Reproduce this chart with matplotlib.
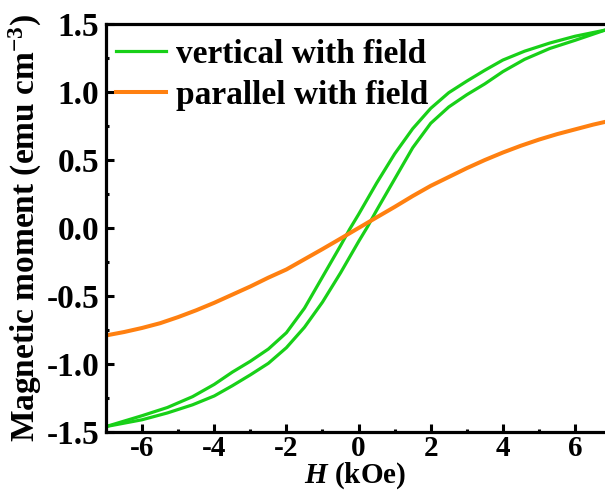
import numpy as np
import matplotlib
matplotlib.use('Agg')
import matplotlib.pyplot as plt

plt.rcParams['font.family'] = 'Liberation Serif'
plt.rcParams['font.weight'] = 'bold'
plt.rcParams['axes.unicode_minus'] = False
plt.rcParams['mathtext.fontset'] = 'custom'
plt.rcParams['mathtext.rm'] = 'Liberation Serif:bold'
plt.rcParams['mathtext.bf'] = 'Liberation Serif:bold'
plt.rcParams['mathtext.it'] = 'Liberation Serif:italic:bold'

# vertical with field: descending branch (from +H to -H)
h_down = [6.83, 6.0, 5.3, 4.6, 4.0, 3.5, 3.0, 2.5, 2.0, 1.5, 1.0, 0.5, 0.0, -0.25,
          -0.5, -1.0, -1.5, -2.0, -2.5, -3.0, -3.5, -4.0, -4.6, -5.3, -6.0, -7.0]
m_down = [1.455, 1.41, 1.36, 1.30, 1.235, 1.16, 1.08, 0.995, 0.88, 0.73, 0.545, 0.33, 0.10, -0.01,
          -0.13, -0.36, -0.59, -0.77, -0.89, -0.98, -1.06, -1.15, -1.24, -1.32, -1.38, -1.46]
# vertical with field: ascending branch (from -H to +H)
h_up = [-7.0, -6.0, -5.3, -4.6, -4.0, -3.5, -3.0, -2.5, -2.0, -1.5, -1.0, -0.5, 0.0, 0.25,
        0.5, 1.0, 1.5, 2.0, 2.5, 3.0, 3.5, 4.0, 4.6, 5.3, 6.0, 6.83]
m_up = [-1.46, -1.41, -1.36, -1.30, -1.235, -1.16, -1.08, -0.995, -0.88, -0.73, -0.545, -0.33, -0.10, 0.01,
        0.13, 0.36, 0.59, 0.77, 0.89, 0.98, 1.06, 1.15, 1.24, 1.32, 1.38, 1.455]
# parallel with field
h_par = [-7.0, -6.5, -6.0, -5.5, -5.0, -4.5, -4.0, -3.5, -3.0, -2.5, -2.0, -1.5, -1.0, -0.5, 0.0,
         0.5, 1.0, 1.5, 2.0, 2.5, 3.0, 3.5, 4.0, 4.5, 5.0, 5.5, 6.0, 6.5, 6.83]
m_par = [-0.79, -0.765, -0.735, -0.70, -0.655, -0.605, -0.55, -0.49, -0.43, -0.365, -0.305, -0.23, -0.155, -0.078, 0.0,
         0.078, 0.155, 0.235, 0.31, 0.375, 0.44, 0.50, 0.555, 0.605, 0.65, 0.69, 0.725, 0.76, 0.78]

green = '#18d018'
orange = '#ff8010'

fig = plt.figure(figsize=(6.05, 4.97), dpi=100)
ax = fig.add_axes([106 / 605, 65 / 497, 499 / 605, 408 / 497])

ax.plot(h_down, m_down, color=green, lw=2.3, label='vertical with field')
ax.plot(h_up, m_up, color=green, lw=2.3)
ax.plot(h_par, m_par, color=orange, lw=2.9, label='parallel with field')

ax.set_xlim(-7.0, 6.83)
ax.set_ylim(-1.5, 1.5)
ax.set_xticks([-6, -4, -2, 0, 2, 4, 6])
ax.set_xticks([-7, -5, -3, -1, 1, 3, 5], minor=True)
ax.set_yticks([-1.5, -1.0, -0.5, 0.0, 0.5, 1.0, 1.5])
ax.set_yticks(np.arange(-1.25, 1.5, 0.5), minor=True)
ax.set_yticklabels(['-1.5', '-1.0', '-0.5', '0.0', '0.5', '1.0', '1.5'])

for s in ['left', 'bottom', 'top']:
    ax.spines[s].set_linewidth(2.3)
ax.spines['right'].set_visible(False)
ax.tick_params(which='major', direction='in', length=6, width=2.2, labelsize=24, pad=5,
               top=False, right=False)
ax.tick_params(axis='x', which='major', labelsize=21, pad=2)
ax.tick_params(which='minor', direction='in', length=2.5, width=2.2, top=False, right=False)

ax.set_xlabel('$\\it{H}$ (kOe)', fontsize=21, fontweight='bold', labelpad=-1)
ax.set_ylabel('Magnetic moment (emu cm$^{-3}$)', fontsize=24, fontweight='bold', labelpad=2)

ax.legend(loc='upper left', bbox_to_anchor=(10 / 499, 1 - 15 / 408), frameon=False,
          fontsize=24, handlelength=1.5, handletextpad=0.3, labelspacing=0.3,
          borderpad=0, borderaxespad=0)

plt.savefig('out.png', dpi=100)
